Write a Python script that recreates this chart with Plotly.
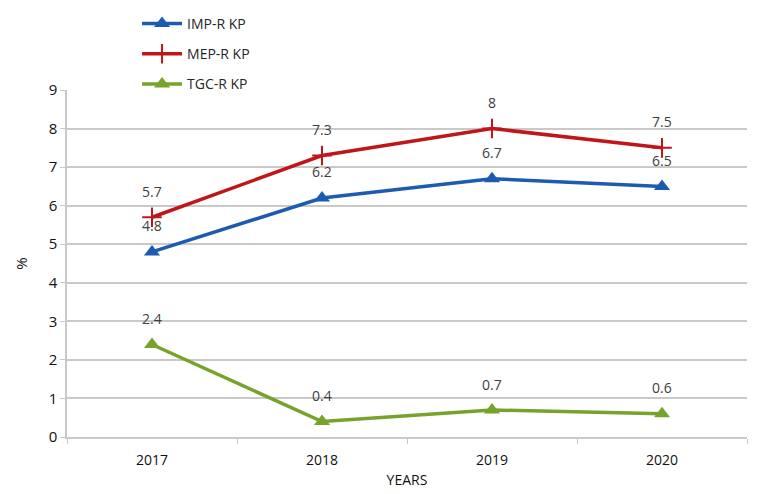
import plotly.graph_objects as go

years = ["2017", "2018", "2019", "2020"]
imp = [4.8, 6.2, 6.7, 6.5]
mep = [5.7, 7.3, 8.0, 7.5]
tgc = [2.4, 0.4, 0.7, 0.6]

imp_labels = ["4.8", "6.2", "6.7", "6.5"]
mep_labels = ["5.7", "7.3", "8", "7.5"]
tgc_labels = ["2.4", "0.4", "0.7", "0.6"]

FONT = "Open Sans"
GRID = "#c9c9c9"

fig = go.Figure()

fig.add_trace(go.Scatter(
  x=years, y=imp, name="IMP-R KP", legendgroup="a",
  mode="lines+markers",
  line=dict(color="#1d5bb0", width=3.5),
  marker=dict(symbol="triangle-up", size=14, color="#1d5bb0"),
  cliponaxis=False
))
fig.add_trace(go.Scatter(
  x=years, y=mep, name="MEP-R KP", legendgroup="b",
  mode="lines+markers",
  line=dict(color="#c0161b", width=3.5),
  marker=dict(symbol="cross-thin", size=14, line=dict(color="#c0161b", width=2)),
  cliponaxis=False
))
fig.add_trace(go.Scatter(
  x=years, y=tgc, name="TGC-R KP", legendgroup="c",
  mode="lines+markers",
  line=dict(color="#77a22b", width=3.5),
  marker=dict(symbol="triangle-up", size=14, color="#77a22b"),
  cliponaxis=False
))

# data labels sit a bit above each point (x as category index)
for vals, labels in [(imp, imp_labels), (mep, mep_labels), (tgc, tgc_labels)]:
  for i, (v, lab) in enumerate(zip(vals, labels)):
    fig.add_annotation(
      x=i, y=v, text=lab, showarrow=False, yshift=26,
      font=dict(size=14, color="#404040", family=FONT)
    )

# page body adds an 8px offset, so the figure is 8px smaller
fig.update_layout(
  width=757, height=486,
  margin=dict(l=59, r=18, t=82, b=57, autoexpand=False),
  paper_bgcolor="white", plot_bgcolor="white",
  font=dict(family=FONT, size=14, color="#262626"),
  showlegend=True,
  legend=dict(
    x=0.103, y=1.0, xanchor="left", yanchor="top", yref="container",
    traceorder="grouped", tracegroupgap=9,
    font=dict(size=14, color="#262626"),
    bgcolor="rgba(0,0,0,0)", itemwidth=40
  ),
  xaxis=dict(
    type="category", range=[-0.5, 3.5], automargin=False,
    tickson="boundaries", ticks="outside", ticklen=5, tickcolor=GRID,
    ticklabelstandoff=9,
    showline=True, linecolor=GRID, linewidth=1.5,
    showgrid=False,
    tickfont=dict(size=14, color="#111111"),
    title=dict(text="YEARS", font=dict(size=14, color="#111111"), standoff=8)
  ),
  yaxis=dict(
    range=[0, 9], dtick=1, automargin=False,
    showgrid=True, gridcolor=GRID, gridwidth=1.5,
    showline=True, linecolor=GRID, linewidth=1.5,
    ticks="outside", ticklen=5, tickcolor=GRID,
    zeroline=False,
    tickfont=dict(size=15, color="#111111"),
    title=dict(text="%", font=dict(size=15, color="#111111"), standoff=17)
  )
)

fig.write_html("out.html")
